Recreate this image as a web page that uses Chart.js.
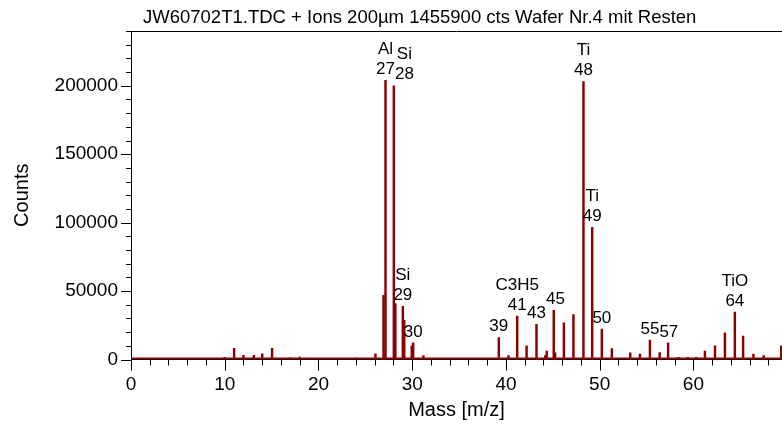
<!DOCTYPE html>
<html>
<head>
<meta charset="utf-8">
<script src="https://cdn.jsdelivr.net/npm/chart.js@4.4.1/dist/chart.umd.min.js"></script>
<style>
  html, body { margin: 0; padding: 0; background: #fff; }
  #wrap { width: 782px; height: 426px; }
</style>
</head>
<body>
<div id="wrap"><canvas id="spectrum" width="782" height="426"></canvas></div>
<script>
// mass spectrum
const titleText = 'JW60702T1.TDC + Ions 200µm 1455900 cts Wafer Nr.4 mit Resten';

const peakMass = [10.0, 11.0, 12.0, 13.1, 14.0, 15.05, 17.0, 18.0, 19.0, 24.0,
  26.08, 26.94, 27.15, 28.04, 28.2, 29.0, 29.15, 29.95, 30.1, 31.2,
  39.24, 40.27, 41.2, 42.2, 43.26, 44.2, 44.35, 45.1, 45.25, 46.18,
  47.2, 48.27, 49.2, 50.23, 51.3, 53.26, 54.3, 55.36, 56.4, 57.3,
  58.4, 59.4, 60.3, 61.23, 62.3, 63.36, 64.42, 65.3, 66.4, 67.5, 69.37];
const peakCounts = [1500, 8200, 3100, 3100, 4100, 8200, 1300, 1700, 1100, 1100,
  4100, 46800, 204000, 200000, 40800, 38800, 28600, 10000, 12100, 2900,
  16000, 2900, 31800, 10000, 25700, 2900, 6100, 35900, 4900, 26700,
  32800, 203000, 96500, 22300, 8000, 4900, 3900, 14100, 5100, 12100,
  1500, 1500, 1500, 6100, 10000, 19400, 34700, 17200, 3900, 2900, 10000];

// noise floor along the axis
const baseMass = [0, 69.45];
const baseCounts = [700, 700];

// annotated peaks
const labelMass = [27.15, 28.04, 29.0, 30.1, 39.24, 41.2, 43.26, 45.1, 48.27, 49.2, 50.23, 55.36, 57.3, 64.42];
const labelNumber = ['27', '28', '29', '30', '39', '41', '43', '45', '48', '49', '50', '55', '57', '64'];
const labelName = ['Al', 'Si', 'Si', '', '', 'C3H5', '', '', 'Ti', 'Ti', '', '', '', 'TiO'];

const xTickValues = [0, 10, 20, 30, 40, 50, 60];
const yTickValues = [0, 50000, 100000, 150000, 200000];

const FONT = '"Liberation Sans", Arial, sans-serif';
const RED = 'rgb(139,0,0)';

const titlePlugin = {
  id: 'titleText',
  afterDraw(chart) {
    const ctx = chart.ctx;
    ctx.save();
    ctx.fillStyle = '#000';
    ctx.font = `18.5px ${FONT}`;
    ctx.textAlign = 'left';
    ctx.textBaseline = 'middle';
    ctx.fillText(titleText, chart.chartArea.left + 12, 18);
    ctx.restore();
  }
};

const axisMarks = {
  id: 'axisMarks',
  afterDraw(chart) {
    const {ctx, chartArea: a, scales: {x, y}} = chart;
    ctx.save();
    ctx.strokeStyle = '#000';
    ctx.lineWidth = 1;
    ctx.beginPath();
    ctx.moveTo(a.left, Math.round(a.top) + 0.5);
    ctx.lineTo(a.right, Math.round(a.top) + 0.5);
    for (let v = 0; v <= 68; v += 2) {
      const px = Math.round(x.getPixelForValue(v)) + 0.5;
      const len = v % 10 === 0 ? 11 : 6;
      ctx.moveTo(px, a.bottom);
      ctx.lineTo(px, a.bottom + len);
    }
    for (let v = 0; v <= 240000; v += 10000) {
      const py = Math.round(y.getPixelForValue(v)) + 0.5;
      const len = v % 50000 === 0 ? 10 : 5;
      ctx.moveTo(a.left, py);
      ctx.lineTo(a.left - len, py);
    }
    ctx.stroke();
    ctx.restore();
  }
};

const peakLabels = {
  id: 'peakLabels',
  afterDatasetsDraw(chart) {
    const {ctx, scales: {x, y}} = chart;
    ctx.save();
    ctx.fillStyle = '#000';
    ctx.font = `17px ${FONT}`;
    ctx.textAlign = 'center';
    ctx.textBaseline = 'middle';
    let prev = null;
    labelMass.forEach((m, i) => {
      const counts = peakCounts[peakMass.indexOf(m)];
      const w = ctx.measureText(labelNumber[i]).width;
      let cx = x.getPixelForValue(m);
      const cy = y.getPixelForValue(counts) - 11;
      // push a label right if it would sit on top of its neighbour
      if (prev && cx - w / 2 < prev.right && Math.abs(cy - prev.cy) < 17) {
        cx = prev.right + w / 2;
      }
      ctx.fillText(labelNumber[i], cx, cy);
      if (labelName[i]) ctx.fillText(labelName[i], cx, cy - 20);
      prev = {right: cx + w / 2, cy};
    });
    ctx.restore();
  }
};

new Chart(document.getElementById('spectrum'), {
  type: 'bar',
  data: {
    datasets: [
      {
        type: 'line',
        data: baseMass.map((m, i) => ({x: m, y: baseCounts[i]})),
        borderColor: RED,
        borderWidth: 2,
        pointRadius: 0,
        order: 2,
      },
      {
        type: 'bar',
        data: peakMass.map((m, i) => ({x: m, y: peakCounts[i]})),
        backgroundColor: RED,
        borderWidth: 0,
        barThickness: 1.8,
        order: 1,
      },
    ],
  },
  options: {
    responsive: false,
    animation: false,
    layout: { padding: { top: 31, left: 0, right: 0, bottom: 0 } },
    plugins: {
      legend: { display: false },
      tooltip: { enabled: false },
      title: { display: false },
    },
    scales: {
      x: {
        type: 'linear',
        min: 0,
        max: 69.45,
        offset: false,
        grid: { display: false, drawTicks: false },
        border: { display: true, color: '#000', width: 1 },
        afterBuildTicks: (scale) => { scale.ticks = xTickValues.map(v => ({value: v})); },
        afterFit: (scale) => { scale.height = 66.5; },
        ticks: {
          color: '#000',
          font: { family: FONT, size: 19 },
          padding: 14,
          autoSkip: false,
          maxRotation: 0,
          callback: (v) => String(v),
        },
        title: {
          display: true,
          text: 'Mass [m/z]',
          color: '#000',
          font: { family: FONT, size: 20 },
          padding: { top: 0, bottom: 4 },
        },
      },
      y: {
        type: 'linear',
        min: 0,
        max: 240000,
        grid: { display: false, drawTicks: false },
        border: { display: true, color: '#000', width: 1 },
        afterBuildTicks: (scale) => { scale.ticks = yTickValues.map(v => ({value: v})); },
        afterFit: (scale) => { scale.width = 131; },
        ticks: {
          color: '#000',
          font: { family: FONT, size: 19 },
          padding: 13,
          callback: (v) => String(v),
        },
        title: {
          display: true,
          text: 'Counts',
          color: '#000',
          font: { family: FONT, size: 20 },
          padding: { top: 10, bottom: 0 },
        },
      },
    },
  },
  plugins: [titlePlugin, axisMarks, peakLabels],
});
</script>
</body>
</html>
